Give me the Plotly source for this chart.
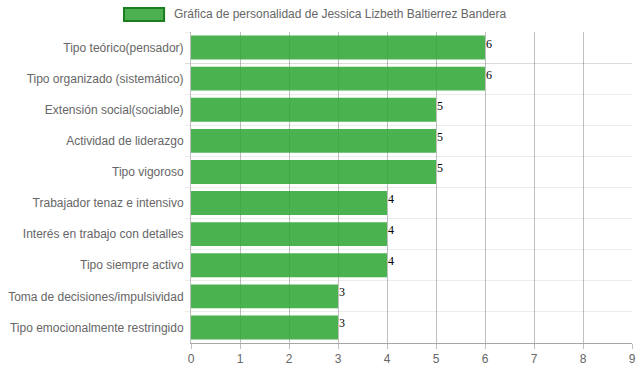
import plotly.graph_objects as go

categories = [
    "Tipo teórico(pensador)",
    "Tipo organizado (sistemático)",
    "Extensión social(sociable)",
    "Actividad de liderazgo",
    "Tipo vigoroso",
    "Trabajador tenaz e intensivo",
    "Interés en trabajo con detalles",
    "Tipo siempre activo",
    "Toma de decisiones/impulsividad",
    "Tipo emocionalmente restringido",
]
values = [6, 6, 5, 5, 5, 4, 4, 4, 3, 3]
series_name = "Gráfica de personalidad de Jessica Lizbeth Baltierrez Bandera"
x_ticks = [0, 1, 2, 3, 4, 5, 6, 7, 8, 9]

fig = go.Figure()
fig.add_trace(go.Bar(
    y=categories,
    x=values,
    orientation="h",
    name=series_name,
    marker=dict(color="rgba(44,164,49,0.85)", line=dict(width=0)),
    showlegend=False,
))

for c, v in zip(categories, values):
    fig.add_annotation(x=v, y=c, text=str(v), showarrow=False,
                       xanchor="left", yanchor="middle", xshift=-1, yshift=4,
                       font=dict(family="Liberation Serif", size=12, color="#000"))

# legend-like header
fig.add_shape(type="rect", xref="paper", yref="paper",
              x0=-0.152, x1=-0.061, y0=1.035, y1=1.077,
              fillcolor="#4CAF50", line=dict(color="#1b7d1f", width=2))
fig.add_annotation(xref="paper", yref="paper", x=-0.043, y=1.058,
                   text=series_name, showarrow=False, xanchor="left", yanchor="middle",
                   font=dict(family="Liberation Sans, Arial, sans-serif", size=12, color="#666"))

fig.update_layout(
    width=639, height=372,
    margin=dict(l=191, r=7, t=32, b=29, autoexpand=False),
    paper_bgcolor="white", plot_bgcolor="white",
    bargap=0.23,
    font=dict(family="Liberation Sans, Arial, sans-serif", size=12, color="#666"),
    xaxis=dict(
        range=[0, 9], tickvals=x_ticks, showgrid=True, automargin=False,
        gridcolor="rgba(0,0,0,0.25)", gridwidth=1,
        showline=True, linecolor="rgba(0,0,0,0.35)",
        ticks="outside", ticklen=5, tickcolor="rgba(0,0,0,0.25)",
        zeroline=False, fixedrange=True,
        tickfont=dict(size=12, color="#666"),
    ),
    yaxis=dict(
        type="category", autorange="reversed", automargin=False,
        tickson="boundaries", showgrid=True,
        gridcolor="rgba(0,0,0,0.07)", gridwidth=1,
        showline=True, linecolor="rgba(0,0,0,0.25)",
        ticks="outside", ticklen=5, tickcolor="rgba(0,0,0,0.07)",
        ticklabelstandoff=4, fixedrange=True,
        tickfont=dict(size=12, color="#666"),
    ),
)

fig.write_html("out.html", config={"displayModeBar": False},
               post_script="document.body.style.margin='0';")
